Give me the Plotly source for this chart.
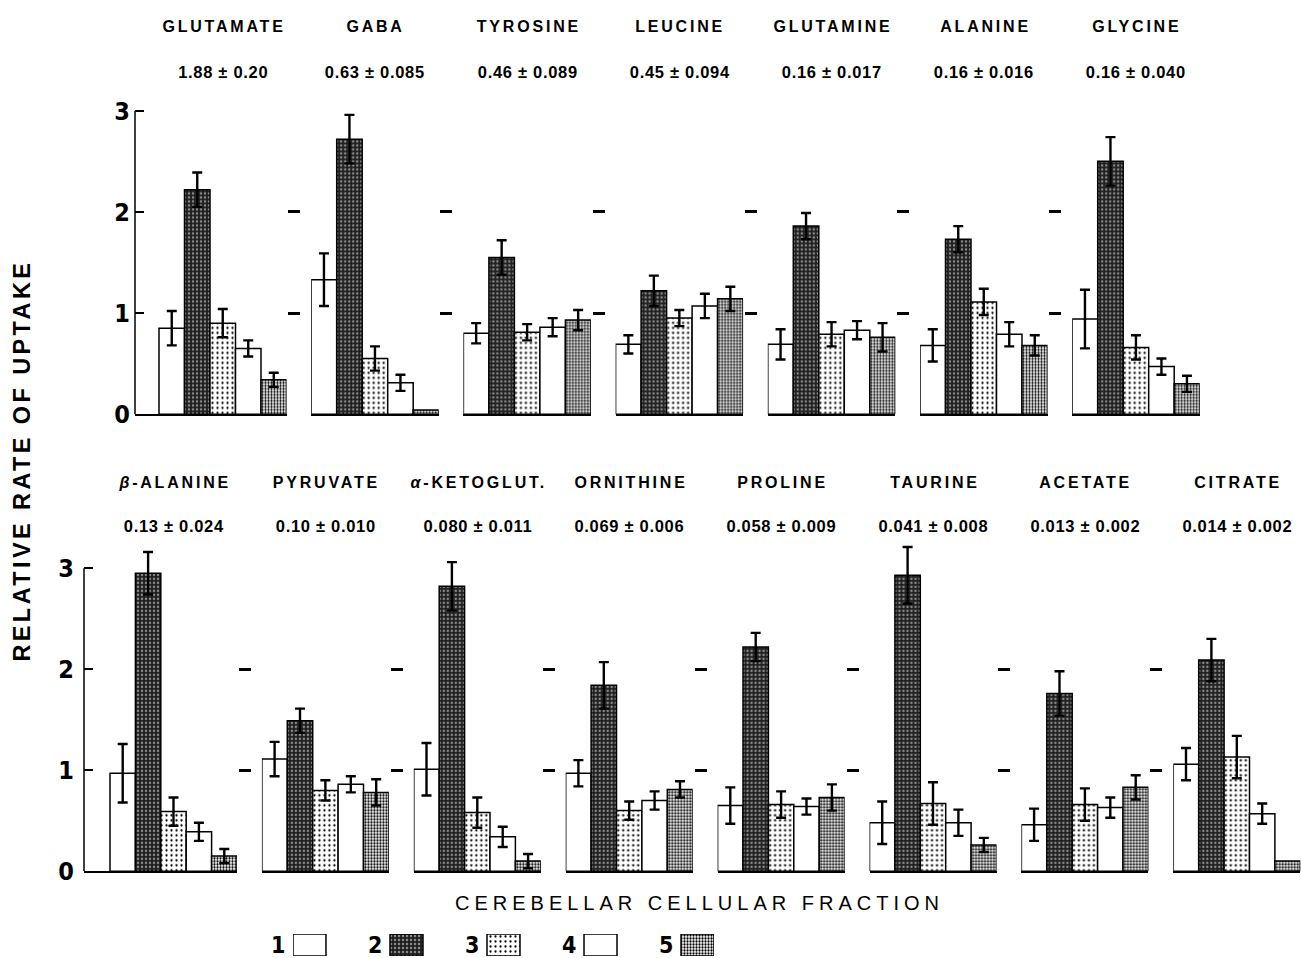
import json
import plotly.graph_objects as go

# ---------------- data ----------------
SUBSTANCES = ["GLUTAMATE", "GABA", "TYROSINE", "LEUCINE", "GLUTAMINE", "ALANINE", "GLYCINE",
              "<i>β</i>-ALANINE", "PYRUVATE", "<i>α</i>-KETOGLUT.", "ORNITHINE", "PROLINE",
              "TAURINE", "ACETATE", "CITRATE"]
BASAL_RATES = ["1.88 ± 0.20", "0.63 ± 0.085", "0.46 ± 0.089", "0.45 ± 0.094", "0.16 ± 0.017",
               "0.16 ± 0.016", "0.16 ± 0.040",
               "0.13 ± 0.024", "0.10 ± 0.010", "0.080 ± 0.011", "0.069 ± 0.006", "0.058 ± 0.009",
               "0.041 ± 0.008", "0.013 ± 0.002", "0.014 ± 0.002"]
N_TOP = 7  # first row holds the first 7 substances

FRACTIONS = ["1", "2", "3", "4", "5"]

FRACTION_1 = [0.85, 1.33, 0.80, 0.69, 0.69, 0.68, 0.94, 0.97, 1.11, 1.01, 0.97, 0.65, 0.48, 0.46, 1.06]
ERROR_1    = [0.17, 0.26, 0.10, 0.09, 0.15, 0.16, 0.29, 0.29, 0.17, 0.26, 0.13, 0.18, 0.21, 0.16, 0.16]
FRACTION_2 = [2.22, 2.72, 1.55, 1.22, 1.86, 1.73, 2.50, 2.95, 1.49, 2.82, 1.84, 2.22, 2.93, 1.76, 2.09]
ERROR_2    = [0.17, 0.24, 0.17, 0.15, 0.13, 0.13, 0.24, 0.21, 0.12, 0.24, 0.23, 0.14, 0.28, 0.22, 0.21]
FRACTION_3 = [0.90, 0.55, 0.81, 0.95, 0.79, 1.11, 0.66, 0.59, 0.80, 0.58, 0.60, 0.66, 0.67, 0.66, 1.13]
ERROR_3    = [0.14, 0.12, 0.08, 0.08, 0.12, 0.13, 0.12, 0.14, 0.10, 0.15, 0.09, 0.13, 0.21, 0.16, 0.21]
FRACTION_4 = [0.65, 0.31, 0.86, 1.07, 0.83, 0.79, 0.47, 0.39, 0.86, 0.34, 0.70, 0.64, 0.48, 0.63, 0.57]
ERROR_4    = [0.08, 0.08, 0.09, 0.12, 0.09, 0.12, 0.08, 0.09, 0.08, 0.10, 0.09, 0.08, 0.13, 0.10, 0.10]
FRACTION_5 = [0.34, 0.04, 0.93, 1.14, 0.76, 0.68, 0.30, 0.15, 0.78, 0.10, 0.81, 0.73, 0.26, 0.83, 0.10]
ERROR_5    = [0.07, None, 0.10, 0.12, 0.14, 0.10, 0.08, 0.07, 0.13, 0.07, 0.08, 0.13, 0.07, 0.12, None]

Y_TICKS = [0, 1, 2, 3]
Y_TITLE = "RELATIVE RATE OF UPTAKE"
X_TITLE = "CEREBELLAR CELLULAR FRACTION"

VALUES = [FRACTION_1, FRACTION_2, FRACTION_3, FRACTION_4, FRACTION_5]
ERRORS = [ERROR_1, ERROR_2, ERROR_3, ERROR_4, ERROR_5]

# ---------------- styling / geometry ----------------
W, H = 1301, 958          # reference picture size (coordinates below are in these pixels)
FIG_W, FIG_H = 1301, 974  # page area that gets photographed
def px(x):
    return min(1.0, max(0.0, x / W))
def py(y):
    return min(1.0, max(0.0, 1 - y / H))

STYLES = [
    dict(color="white", pattern=None),
    dict(color="#1e1e1e", pattern=dict(shape=".", fgcolor="#8c8c8c", bgcolor="#1e1e1e", size=4, solidity=0.3, fillmode="replace")),
    dict(color="white", pattern=dict(shape=".", fgcolor="#000000", bgcolor="#ffffff", size=5, solidity=0.16, fillmode="replace")),
    dict(color="white", pattern=None),
    dict(color="#aaaaaa", pattern=dict(shape=".", fgcolor="#000000", bgcolor="#ffffff", size=3, solidity=0.45, fillmode="replace")),
]

Y_TOP = 3.35   # headroom so error bars above 3 are not clipped
ROWS = [
    dict(start=159.0, pitch=152.2, width=127.5, axis=135.0, y0=413.7, unit=101.0, title_y=26, value_y=72),
    dict(start=110.0, pitch=151.9, width=127.0, axis=84.0, y0=870.3, unit=100.9, title_y=482, value_y=525),
]

FONT_TXT = "Liberation Sans, Arial, sans-serif"
FONT_NUM = "Liberation Sans Narrow, DejaVu Sans Condensed, Liberation Sans, sans-serif"

fig = go.Figure()
layout = dict(
    width=FIG_W, height=FIG_H, autosize=False,
    margin=dict(l=0, r=0, t=0, b=0, pad=0),
    paper_bgcolor="white", plot_bgcolor="rgba(0,0,0,0)",
    barmode="overlay", showlegend=False,
)
annotations = []
spacing = []   # letter spacing (px) per annotation, applied after drawing
shapes = []

def add_ann(sp, **kw):
    annotations.append(kw)
    spacing.append(sp)

for i, name in enumerate(SUBSTANCES):
    row = 0 if i < N_TOP else 1
    k = i if row == 0 else i - N_TOP
    g = ROWS[row]
    n = i + 1
    xa = "x" if n == 1 else f"x{n}"
    ya = "y" if n == 1 else f"y{n}"
    xkey = "xaxis" if n == 1 else f"xaxis{n}"
    ykey = "yaxis" if n == 1 else f"yaxis{n}"
    left = g["start"] + k * g["pitch"]
    right = left + g["width"]
    barpx = g["width"] / 5.0
    first = (k == 0)
    dom_left = g["axis"] if first else left
    x_lo = -0.5 - (left - g["axis"]) / barpx if first else -0.5
    vis_right = min(right, W)
    x_hi = 4.5 - (right - vis_right) / barpx

    for f in range(5):
        st = STYLES[f]
        err = ERRORS[f][i]
        marker = dict(color=st["color"], line=dict(color="black", width=1.5))
        if st["pattern"] is not None:
            marker["pattern"] = st["pattern"]
        fig.add_trace(go.Bar(
            x=[f], y=[VALUES[f][i]], width=1.0,
            marker=marker, xaxis=xa, yaxis=ya, cliponaxis=False,
            name=FRACTIONS[f],
            error_y=dict(type="data", array=[err if err is not None else 0],
                         visible=err is not None, color="black", thickness=2.4, width=5),
            hoverinfo="skip",
        ))

    layout[xkey] = dict(
        domain=[px(dom_left), px(vis_right)], range=[x_lo, x_hi], anchor=ya,
        showline=True, linecolor="black", linewidth=1.5, ticks="", showticklabels=False,
        showgrid=False, zeroline=False, fixedrange=True,
    )
    ydom = [py(g["y0"]), py(g["y0"] - Y_TOP * g["unit"])]
    if first:
        layout[ykey] = dict(
            domain=ydom, range=[0, Y_TOP], anchor=xa,
            showline=False,
            ticks="inside", ticklen=9, tickwidth=1.5, tickcolor="black",
            tickvals=Y_TICKS, ticktext=[str(t) for t in Y_TICKS],
            tickfont=dict(family=FONT_NUM, size=25, color="black", weight="bold"),
            ticklabelstandoff=4 if row == 0 else 9,
            showgrid=False, zeroline=False, fixedrange=True,
        )
        # vertical axis line from 0 to 3 only
        shapes.append(dict(type="line", xref=f"{xa} domain", yref=ya, x0=0, x1=0,
                           y0=0, y1=Y_TICKS[-1], line=dict(color="black", width=1.5)))
    else:
        layout[ykey] = dict(
            domain=ydom, range=[0, Y_TOP], anchor="free", position=px(left - 24),
            showline=False, ticks="inside", ticklen=12, tickwidth=2.5, tickcolor="black",
            tickvals=Y_TICKS[1:3], showticklabels=False,
            showgrid=False, zeroline=False, fixedrange=True,
        )

    cx = (left + right) / 2.0
    add_ann(2.8, text=name, x=px(cx + 1.5), y=py(g["title_y"]), xref="paper", yref="paper",
            xanchor="center", yanchor="middle", showarrow=False,
            font=dict(family=FONT_TXT, size=16, color="black", weight="bold"))
    add_ann(0.7, text=BASAL_RATES[i], x=px(cx + 0.5), y=py(g["value_y"]), xref="paper", yref="paper",
            xanchor="center", yanchor="middle", showarrow=False,
            font=dict(family=FONT_TXT, size=16.5, color="black", weight="bold"))

# axis titles
add_ann(3.4, text=Y_TITLE, x=px(22), y=py(460), xref="paper", yref="paper", textangle=-90,
        xanchor="center", yanchor="middle", showarrow=False,
        font=dict(family=FONT_TXT, size=23.5, color="black", weight="bold"))
add_ann(5.0, text=X_TITLE, x=px(699), y=py(902), xref="paper", yref="paper",
        xanchor="center", yanchor="middle", showarrow=False,
        font=dict(family=FONT_TXT, size=20, color="black"))

# fraction key (legend) drawn as a small subplot
KEY_N = len(SUBSTANCES) + 1
kx, ky = f"x{KEY_N}", f"y{KEY_N}"
for f in range(5):
    st = STYLES[f]
    marker = dict(color=st["color"], line=dict(color="black", width=1.5))
    if st["pattern"] is not None:
        marker["pattern"] = st["pattern"]
    fig.add_trace(go.Bar(x=[f], y=[1], width=0.34, marker=marker, xaxis=kx, yaxis=ky,
                         name=FRACTIONS[f], hoverinfo="skip"))
    add_ann(0, text=FRACTIONS[f], x=f - 0.17, y=0.5, xref=kx, yref=ky,
            xanchor="right", yanchor="middle", xshift=-6, showarrow=False,
            font=dict(family=FONT_NUM, size=23, color="black", weight="bold"))
layout[f"xaxis{KEY_N}"] = dict(domain=[px(293), px(714)], range=[-0.17, 4.17], anchor=ky,
                               visible=False, fixedrange=True)
layout[f"yaxis{KEY_N}"] = dict(domain=[py(955), py(933)], range=[0, 1], anchor=kx,
                               visible=False, fixedrange=True)

layout["annotations"] = annotations
layout["shapes"] = shapes
fig.update_layout(**layout)

# page exactly the size of the figure, and the typeset letter spacing of the original
PAGE_FIX = (
    "document.documentElement.style.margin='0';document.body.style.margin='0';"
    "document.documentElement.style.overflow='hidden';document.body.style.overflow='hidden';"
    "var sp=" + json.dumps(spacing) + ";"
    "var gd=document.getElementById('{plot_id}');"
    "gd.querySelectorAll('g.annotation').forEach(function(g){"
    "var i=+g.getAttribute('data-index');var t=g.querySelector('text.annotation-text');"
    "if(t&&sp[i]){t.style.letterSpacing=sp[i]+'px';}});"
)
fig.write_html("out.html", post_script=PAGE_FIX, config={"displayModeBar": False})
